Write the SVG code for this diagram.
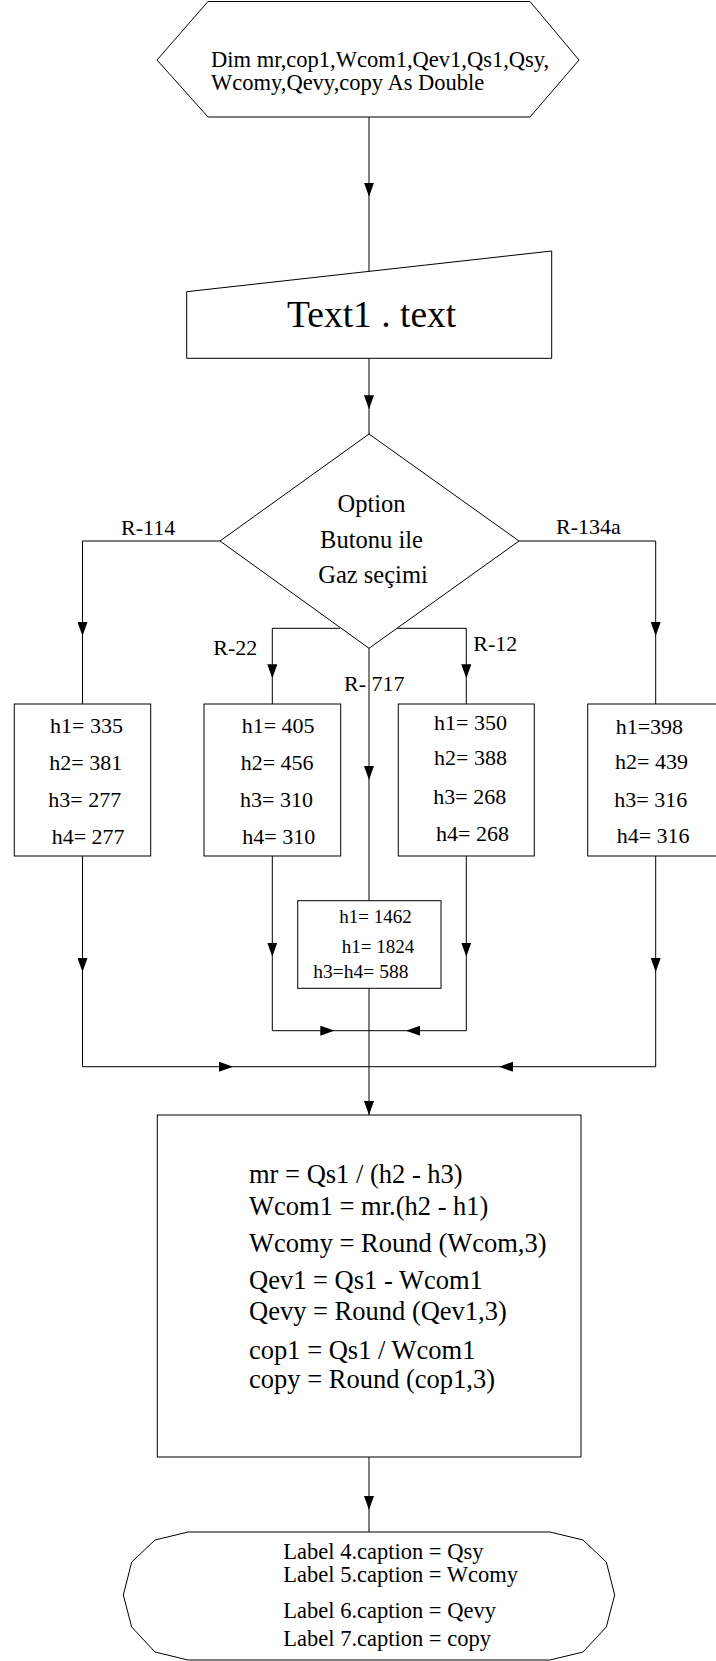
<svg xmlns="http://www.w3.org/2000/svg" width="716" height="1661" viewBox="0 0 716 1661">
<style>
.s{fill:#fff;stroke:#000;stroke-width:1}
.c{fill:none;stroke:#000;stroke-width:1}
text{font-family:"Liberation Serif","Times New Roman",serif;fill:#000}
.t22{font-size:22px}
.t26{font-size:26.5px}
.t19{font-size:19px}
.d{font-size:24.5px}
.lb{font-size:22.5px}
</style>
<defs>
<marker id="arr" viewBox="0 0 14 10" refX="14" refY="5" markerWidth="14" markerHeight="10" orient="auto" markerUnits="userSpaceOnUse">
<path d="M0,0 L14,5 L0,10 z" fill="#000"/>
</marker>
</defs>
<rect width="716" height="1661" fill="#fff"/>
<g id="connectors">
<path class="c" d="M369,117 V196.7" marker-end="url(#arr)"/>
<path class="c" d="M369,196.7 V272"/>
<path class="c" d="M369,358.3 V409.3" marker-end="url(#arr)"/>
<path class="c" d="M369,409.3 V434"/>
<path class="c" d="M220,541 H82.5 V636" marker-end="url(#arr)"/>
<path class="c" d="M82.5,636 V704"/>
<path class="c" d="M519,541 H655.7 V636" marker-end="url(#arr)"/>
<path class="c" d="M655.7,636 V704"/>
<path class="c" d="M340,628.3 H272.3 V678.3" marker-end="url(#arr)"/>
<path class="c" d="M272.3,678.3 V704"/>
<path class="c" d="M397.3,628.3 H466.3 V678.3" marker-end="url(#arr)"/>
<path class="c" d="M466.3,678.3 V704"/>
<path class="c" d="M369,648.3 V780" marker-end="url(#arr)"/>
<path class="c" d="M369,780 V900.7"/>
<path class="c" d="M82.5,856 V972" marker-end="url(#arr)"/>
<path class="c" d="M82.5,972 V1066.7 H233" marker-end="url(#arr)"/>
<path class="c" d="M233,1066.7 H369"/>
<path class="c" d="M655.7,856 V972" marker-end="url(#arr)"/>
<path class="c" d="M655.7,972 V1066.7 H499" marker-end="url(#arr)"/>
<path class="c" d="M499,1066.7 H369"/>
<path class="c" d="M272.3,856 V956.7" marker-end="url(#arr)"/>
<path class="c" d="M272.3,956.7 V1030.7 H334.3" marker-end="url(#arr)"/>
<path class="c" d="M334.3,1030.7 H369"/>
<path class="c" d="M466.3,856 V956.7" marker-end="url(#arr)"/>
<path class="c" d="M466.3,956.7 V1030.7 H406" marker-end="url(#arr)"/>
<path class="c" d="M406,1030.7 H369"/>
<path class="c" d="M369,988.3 V1115" marker-end="url(#arr)"/>
<path class="c" d="M369,1457 V1510" marker-end="url(#arr)"/>
<path class="c" d="M369,1510 V1532"/>
</g>
<g id="n-dim">
<polygon class="s" points="208,1.5 530,1.5 579,60 530,117 208,117 157,60"/>
<text x="211" y="67" style="font-size:22.5px">Dim mr,cop1,Wcom1,Qev1,Qs1,Qsy,</text>
<text x="211" y="89.5" style="font-size:22.5px">Wcomy,Qevy,copy As Double</text>
</g>
<g id="n-input">
<polygon class="s" points="186.7,291.7 551.7,251 551.7,358.3 186.7,358.3"/>
<text x="287" y="327" style="font-size:37.5px">Text1 . text</text>
</g>
<g id="n-decision">
<polygon class="s" points="369,434 519,541 369,648.3 220,541"/>
<text class="d" x="371.5" y="512" text-anchor="middle">Option</text>
<text class="d" x="371.5" y="548" text-anchor="middle">Butonu ile</text>
<text class="d" x="373" y="583" text-anchor="middle">Gaz seçimi</text>
</g>
<g id="labels">
<text class="t22" x="121" y="535">R-114</text>
<text class="t22" x="556" y="534.3">R-134a</text>
<text class="t22" x="213.3" y="655">R-22</text>
<text class="t22" x="473.3" y="650.7">R-12</text>
<text class="t22" x="344" y="690.7">R- 717</text>
</g>
<g id="n-r114">
<rect class="s" x="14.3" y="704" width="136.4" height="152"/>
<text class="t22" x="50" y="733">h1= 335</text>
<text class="t22" x="49.3" y="770">h2= 381</text>
<text class="t22" x="48.3" y="807">h3= 277</text>
<text class="t22" x="51.7" y="844">h4= 277</text>
</g>
<g id="n-r22">
<rect class="s" x="204" y="704" width="136.7" height="152"/>
<text class="t22" x="241.7" y="733">h1= 405</text>
<text class="t22" x="240.7" y="770">h2= 456</text>
<text class="t22" x="240" y="807">h3= 310</text>
<text class="t22" x="242.3" y="844">h4= 310</text>
</g>
<g id="n-r12">
<rect class="s" x="398.3" y="704" width="136" height="152"/>
<text class="t22" x="434" y="730">h1= 350</text>
<text class="t22" x="434" y="765">h2= 388</text>
<text class="t22" x="433.3" y="804">h3= 268</text>
<text class="t22" x="436" y="840.7">h4= 268</text>
</g>
<g id="n-r134a">
<rect class="s" x="587.7" y="704" width="136" height="152"/>
<text class="t22" x="615.7" y="734">h1=398</text>
<text class="t22" x="615" y="769">h2= 439</text>
<text class="t22" x="614.3" y="806.7">h3= 316</text>
<text class="t22" x="616.7" y="843.3">h4= 316</text>
</g>
<g id="n-r717">
<rect class="s" x="297.7" y="900.7" width="143.3" height="87.6"/>
<text class="t19" x="339.3" y="922.7">h1= 1462</text>
<text class="t19" x="341.7" y="953.3">h1= 1824</text>
<text x="313.3" y="978.3" style="font-size:19.5px">h3=h4= 588</text>
</g>
<g id="n-calc">
<rect class="s" x="157.3" y="1115" width="423.7" height="342"/>
<text class="t26" x="249" y="1183.3">mr = Qs1 / (h2 - h3)</text>
<text class="t26" x="249" y="1215">Wcom1 = mr.(h2 - h1)</text>
<text class="t26" x="249" y="1251.7">Wcomy = Round (Wcom,3)</text>
<text class="t26" x="249" y="1289.3">Qev1 = Qs1 - Wcom1</text>
<text class="t26" x="249" y="1320">Qevy = Round (Qev1,3)</text>
<text class="t26" x="249" y="1359.3">cop1 = Qs1 / Wcom1</text>
<text class="t26" x="249" y="1388.3">copy = Round (cop1,3)</text>
</g>
<g id="n-output">
<path class="s" d="M188,1532 H550 L583,1540 L606.3,1562 L614.7,1595 L606.3,1627 L583,1652 L550,1660 H188 L155,1652 L131.7,1627 L123.3,1595 L131.7,1562 L155,1540 Z"/>
<text class="lb" x="283.3" y="1559">Label 4.caption = Qsy</text>
<text class="lb" x="283.3" y="1582">Label 5.caption = Wcomy</text>
<text class="lb" x="283.3" y="1618">Label 6.caption = Qevy</text>
<text class="lb" x="283.3" y="1646">Label 7.caption = copy</text>
</g>
</svg>
